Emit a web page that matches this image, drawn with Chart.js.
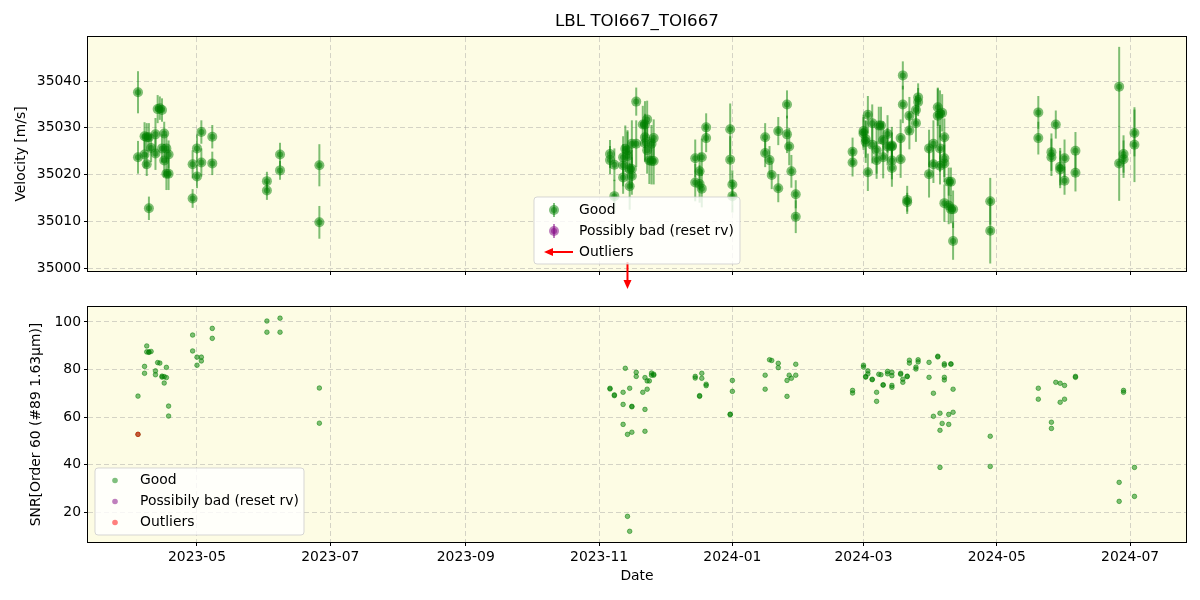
<!DOCTYPE html>
<html>
<head>
<meta charset="utf-8">
<script src="https://cdn.jsdelivr.net/npm/chart.js@4.4.1/dist/chart.umd.min.js"></script>
<style>
  body { margin: 0; background: #fff; }
  .wrap { position: relative; width: 1200px; height: 600px; }
  canvas { position: absolute; left: 0; top: 0; }
</style>
</head>
<body>
<div class="wrap">
  <canvas id="rvChart" width="1200" height="600"></canvas>
  <canvas id="snrChart" width="1200" height="600"></canvas>
</div>
<script>
// observation dates, RV [m/s], RV error, SNR (order 60)
const obsDates = [
  '2023-04-04','2023-04-04','2023-04-07','2023-04-07','2023-04-08','2023-04-08','2023-04-09','2023-04-09','2023-04-10',
  '2023-04-12','2023-04-12','2023-04-13','2023-04-14','2023-04-15','2023-04-15','2023-04-16','2023-04-16','2023-04-17',
  '2023-04-17','2023-04-18','2023-04-18','2023-04-29','2023-04-29','2023-05-01','2023-05-01','2023-05-03','2023-05-03',
  '2023-05-08','2023-05-08','2023-06-02','2023-06-02','2023-06-08','2023-06-08','2023-06-26','2023-06-26',
  '2023-11-06','2023-11-06','2023-11-08','2023-11-08','2023-11-12','2023-11-12','2023-11-12','2023-11-13','2023-11-14',
  '2023-11-14','2023-11-15','2023-11-15','2023-11-16','2023-11-16','2023-11-16','2023-11-18','2023-11-18','2023-11-21',
  '2023-11-22','2023-11-22','2023-11-22','2023-11-23','2023-11-23','2023-11-24','2023-11-25','2023-11-25','2023-11-26',
  '2023-11-26',
  '2023-12-15','2023-12-15','2023-12-17','2023-12-17','2023-12-18','2023-12-18','2023-12-20','2023-12-20','2023-12-31',
  '2023-12-31','2024-01-01','2024-01-01','2024-01-16','2024-01-16','2024-01-18','2024-01-19','2024-01-22','2024-01-22',
  '2024-01-26','2024-01-26','2024-01-27','2024-01-28','2024-01-30','2024-01-30',
  '2024-02-25','2024-02-25','2024-03-01','2024-03-01','2024-03-02','2024-03-02','2024-03-03','2024-03-03','2024-03-05',
  '2024-03-05','2024-03-07','2024-03-07','2024-03-08','2024-03-09','2024-03-10','2024-03-10','2024-03-12','2024-03-12',
  '2024-03-14','2024-03-14','2024-03-14','2024-03-14','2024-03-18','2024-03-18','2024-03-19','2024-03-19','2024-03-21',
  '2024-03-21','2024-03-22','2024-03-22','2024-03-25','2024-03-25','2024-03-26','2024-03-26','2024-03-31','2024-03-31',
  '2024-04-02','2024-04-02','2024-04-04','2024-04-04','2024-04-05','2024-04-05','2024-04-05','2024-04-06','2024-04-07',
  '2024-04-07','2024-04-07','2024-04-07','2024-04-09','2024-04-09','2024-04-10','2024-04-10','2024-04-11','2024-04-11',
  '2024-04-28','2024-04-28','2024-05-20','2024-05-20','2024-05-26','2024-05-26','2024-05-28','2024-05-30','2024-05-30',
  '2024-06-01','2024-06-01','2024-06-06','2024-06-06','2024-06-26','2024-06-26','2024-06-28','2024-06-28','2024-07-03',
  '2024-07-03'
];
const rvValues = [
  35037.6,35023.7,35028.2,35024.3,35028.0,35022.2,35028.0,35012.8,35025.7,
  35028.6,35024.5,35034.0,35034.2,35033.8,35025.6,35028.8,35023.0,35025.6,
  35020.2,35024.3,35020.2,35022.2,35014.9,35025.6,35019.6,35029.1,35022.6,
  35028.1,35022.4,35018.6,35016.6,35024.3,35020.9,35022.0,35009.8,
  35024.4,35023.1,35022.1,35015.4,35019.4,35022.0,35023.7,35025.5,35025.2,
  35024.0,35017.5,35021.2,35021.2,35026.6,35019.7,35035.6,35026.6,35030.7,
  35030.7,35028.0,35026.7,35031.8,35025.2,35023.0,35026.6,35022.9,35027.8,
  35022.9,
  35023.5,35018.3,35020.7,35018.0,35023.7,35017.0,35030.1,35027.8,35029.7,
  35023.2,35017.9,35015.4,35028.0,35024.6,35023.1,35019.9,35029.3,35017.1,
  35035.0,35028.6,35026.0,35020.7,35015.8,35011.0,
  35024.9,35022.6,35029.3,35028.8,35027.6,35027.0,35032.8,35020.5,35031.0,
  35026.4,35025.2,35023.1,35030.5,35030.5,35027.4,35023.7,35028.7,35026.0,
  35026.2,35026.0,35023.0,35021.4,35027.8,35023.3,35041.2,35035.0,35014.6,
  35014.1,35032.6,35029.4,35031.0,35033.8,35036.5,35035.5,35025.6,35020.1,
  35026.6,35022.2,35034.4,35032.6,35033.0,35025.6,35021.9,35033.2,35028.0,
  35023.5,35022.4,35013.9,35018.5,35013.4,35018.5,35012.6,35005.8,35012.6,
  35014.3,35008.0,35033.3,35027.8,35024.8,35023.7,35030.7,35021.7,35021.1,
  35023.5,35018.7,35025.1,35020.4,35038.8,35022.4,35024.4,35023.3,35028.9,
  35026.4
];
const rvErrors = [
  4.5,3.5,3.0,3.0,3.0,2.5,3.0,2.5,3.0,
  3.5,3.5,3.0,2.5,2.5,3.0,2.5,3.5,3.0,
  3.5,3.0,3.5,3.0,2.0,3.0,2.5,2.5,3.0,
  2.5,2.5,2.0,2.0,2.5,2.0,4.5,3.5,
  3.0,3.0,3.5,3.5,3.5,4.5,4.5,5.0,4.0,
  5.5,5.0,4.0,4.0,5.0,4.0,3.0,5.0,4.0,
  5.0,5.0,4.0,4.0,5.0,5.0,4.0,5.0,4.0,
  5.0,
  4.0,4.0,4.0,4.0,4.0,4.0,3.0,3.0,5.5,
  5.0,3.0,3.5,3.0,3.0,3.0,3.0,3.0,3.0,
  3.0,4.0,4.0,3.5,3.0,3.5,
  3.0,3.0,3.5,3.5,4.0,4.5,4.0,4.0,4.0,
  4.0,5.0,4.0,4.0,4.0,4.0,4.5,4.0,4.0,
  4.0,3.0,4.0,4.0,4.0,4.0,3.0,4.0,3.0,
  2.0,4.0,4.0,4.0,3.0,3.0,3.0,4.0,5.0,
  5.0,4.0,4.0,6.0,5.0,5.0,4.0,4.0,4.0,
  4.0,4.0,4.0,3.0,4.0,3.0,3.0,4.0,4.0,
  5.0,7.0,3.5,3.5,4.0,4.0,3.0,4.0,4.0,
  4.0,3.0,4.0,4.0,8.5,8.0,4.0,4.0,5.0,
  8.0
];
const snrValues = [
  68.8,52.7,81.3,78.4,89.9,87.4,87.4,87.2,87.6,
  79.4,77.8,82.9,82.7,77.2,76.8,74.3,77.0,80.9,
  76.6,64.6,60.4,94.5,87.8,85.2,81.8,85.2,83.6,
  97.3,93.1,100.4,95.7,101.6,95.7,72.2,57.4,
  72.1,71.8,69.3,69.0,56.9,70.4,65.3,80.5,52.7,
  18.2,11.9,72.1,64.5,64.3,53.6,78.8,77.1,70.4,
  76.6,63.2,54.0,71.7,75.2,75.2,78.5,77.6,78.0,
  77.6,
  77.1,76.4,69.0,68.7,78.4,76.3,73.8,73.2,61.0,
  61.2,75.4,70.8,77.6,71.7,84.1,83.8,82.6,80.8,
  75.4,68.7,77.6,76.3,82.2,77.6,
  71.2,70.1,81.8,81.0,76.8,77.0,79.4,78.2,75.7,
  75.9,70.4,66.6,78.0,77.8,73.6,73.4,79.2,78.2,
  73.3,72.5,78.8,77.4,78.4,78.0,75.9,74.6,77.0,
  77.2,82.7,83.9,81.0,80.2,83.2,84.1,83.0,76.7,
  70.0,60.3,85.6,85.3,61.6,54.4,38.8,57.3,76.7,
  75.6,82.4,81.8,61.1,56.9,82.4,82.2,71.7,62.0,
  51.9,39.2,72.1,67.5,57.8,55.2,74.6,74.2,66.2,
  73.3,67.5,77.1,76.7,32.5,24.5,71.2,70.4,38.8,
  26.6
];
// outliers: RV below the plotted range (arrow), and one SNR point flagged
const rvOutlierDates = ['2023-11-14'];
const snrOutlierDates = ['2023-04-04'];
const snrOutlierValues = [52.7];

// axes
const xLimits = ['2023-03-12T03:00:00Z', '2024-07-26T14:00:00Z'];
const xTickDates = ['2023-05-01','2023-07-01','2023-09-01','2023-11-01','2024-01-01','2024-03-01','2024-05-01','2024-07-01'];
const rvLimits = [34999.4, 35049.4];
const rvTicks = [35000, 35010, 35020, 35030, 35040];
const snrLimits = [7.4, 106.3];
const snrTicks = [20, 40, 60, 80, 100];

const toMs = d => Date.parse(d);
const FONT = { family: 'DejaVu Sans', size: 13.9 };
const GREEN = 'rgba(0,128,0,0.5)';
const PURPLE = 'rgba(128,0,128,0.5)';
const RED = 'rgba(255,0,0,0.5)';
const BG = 'rgb(253,252,228)';
const GRID = 'rgba(150,150,150,0.4)';

function xAxis(showLabels) {
  return {
    type: 'linear',
    min: toMs(xLimits[0]),
    max: toMs(xLimits[1]),
    afterBuildTicks: s => { s.ticks = xTickDates.map(d => ({ value: toMs(d) })); },
    ticks: {
      display: showLabels, autoSkip: false, maxRotation: 0, color: '#000', font: FONT, padding: 3,
      callback: v => new Date(v).toISOString().slice(0, 7)
    },
    grid: { color: GRID, lineWidth: 1, tickLength: 4, tickColor: '#000', tickWidth: 1 },
    border: { display: false, dash: [5, 3] },
    title: { display: showLabels, text: 'Date', color: '#000', font: FONT, padding: { top: 4, bottom: 15 } },
    afterFit: s => { s.height = showLabels ? 58 : 10; }
  };
}

function yAxis(limits, ticks, label, titlePad) {
  return {
    min: limits[0],
    max: limits[1],
    afterBuildTicks: s => { s.ticks = ticks.map(v => ({ value: v })); },
    ticks: { color: '#000', font: FONT, padding: 3, callback: v => String(v) },
    grid: { color: GRID, lineWidth: 1, tickLength: 4, tickColor: '#000', tickWidth: 1 },
    border: { display: false, dash: [5, 3] },
    title: { display: true, text: label, color: '#000', font: FONT, padding: { top: titlePad, bottom: 0 } },
    afterFit: s => { s.width = 88; }
  };
}

function arrow(ctx, x1, y1, x2, y2) {
  const a = Math.atan2(y2 - y1, x2 - x1), L = 9, W = 4;
  const bx = x2 - L * Math.cos(a), by = y2 - L * Math.sin(a);
  ctx.strokeStyle = 'red'; ctx.fillStyle = 'red'; ctx.lineWidth = 2;
  ctx.beginPath(); ctx.moveTo(x1, y1); ctx.lineTo(bx, by); ctx.stroke();
  ctx.beginPath();
  ctx.moveTo(x2, y2);
  ctx.lineTo(bx + W * Math.sin(a), by - W * Math.cos(a));
  ctx.lineTo(bx - W * Math.sin(a), by + W * Math.cos(a));
  ctx.closePath(); ctx.fill();
}

function dot(ctx, x, y, color, r) {
  ctx.fillStyle = color;
  ctx.beginPath(); ctx.arc(x, y, r, 0, Math.PI * 2); ctx.fill();
}

function drawLegend(ctx, box, items) {
  ctx.save();
  ctx.beginPath();
  ctx.roundRect(box.x, box.y, box.w, box.h, 3);
  ctx.fillStyle = 'rgba(255,255,255,0.8)';
  ctx.fill();
  ctx.strokeStyle = 'rgba(204,204,204,0.8)';
  ctx.lineWidth = 1;
  ctx.stroke();
  ctx.font = '13.9px "DejaVu Sans"';
  ctx.textBaseline = 'middle';
  items.forEach((it, i) => {
    const y = box.y + box.first + i * box.step;
    it.symbol(ctx, box.x + box.sx, y);
    ctx.fillStyle = '#000';
    ctx.fillText(it.label, box.x + box.tx, y);
  });
  ctx.restore();
}

function errSymbol(color) {
  return (ctx, x, y) => {
    ctx.strokeStyle = color; ctx.lineWidth = 2;
    ctx.beginPath(); ctx.moveTo(x, y - 7); ctx.lineTo(x, y + 7); ctx.stroke();
    dot(ctx, x, y, color, 5);
    dot(ctx, x, y, color, 3);
  };
}

const panelPlugin = {
  id: 'panel',
  beforeDraw(chart) {
    const { ctx, chartArea: a } = chart;
    ctx.save();
    ctx.fillStyle = BG;
    ctx.fillRect(a.left, a.top, a.right - a.left, a.bottom - a.top);
    ctx.restore();
  },
  beforeDatasetsDraw(chart, args, opts) {
    if (!opts.errors) return;
    const { ctx, chartArea: a, scales: { x, y } } = chart;
    ctx.save();
    ctx.beginPath(); ctx.rect(a.left, a.top, a.right - a.left, a.bottom - a.top); ctx.clip();
    ctx.strokeStyle = GREEN; ctx.lineWidth = 2;
    obsDates.forEach((d, i) => {
      const px = x.getPixelForValue(toMs(d));
      ctx.beginPath();
      ctx.moveTo(px, y.getPixelForValue(rvValues[i] - rvErrors[i]));
      ctx.lineTo(px, y.getPixelForValue(rvValues[i] + rvErrors[i]));
      ctx.stroke();
    });
    ctx.restore();
  },
  afterDraw(chart, args, opts) {
    const { ctx, chartArea: a, scales: { x } } = chart;
    ctx.save();
    ctx.strokeStyle = '#000'; ctx.lineWidth = 1;
    ctx.strokeRect(Math.round(a.left) - 0.5, Math.round(a.top) - 0.5, Math.round(a.right - a.left) + 1, Math.round(a.bottom - a.top) + 1);
    if (opts.arrows) {
      opts.arrows.forEach(d => {
        const px = x.getPixelForValue(toMs(d));
        arrow(ctx, px, a.bottom - 9, px, a.bottom + 18);
      });
    }
    if (opts.legend) drawLegend(ctx, opts.legend.box, opts.legend.items);
    ctx.restore();
  }
};

const goodRv = obsDates.map((d, i) => ({ x: toMs(d), y: rvValues[i] }));
const goodSnr = obsDates.map((d, i) => ({ x: toMs(d), y: snrValues[i] }));
const badSnr = snrOutlierDates.map((d, i) => ({ x: toMs(d), y: snrOutlierValues[i] }));

new Chart(document.getElementById('rvChart'), {
  type: 'scatter',
  data: {
    datasets: [
      { label: 'Good', data: goodRv, pointRadius: 5, pointBackgroundColor: GREEN, pointBorderWidth: 0 },
      { label: 'Good core', data: goodRv, pointRadius: 3, pointBackgroundColor: GREEN, pointBorderWidth: 0 },
      { label: 'Possibly bad (reset rv)', data: [], pointBackgroundColor: PURPLE }
    ]
  },
  options: {
    responsive: false,
    animation: false,
    layout: { padding: { left: 0, right: 14, top: 0, bottom: 319 } },
    scales: {
      x: xAxis(false),
      y: yAxis(rvLimits, rvTicks, 'Velocity [m/s]', 13)
    },
    plugins: {
      legend: { display: false },
      tooltip: { enabled: false },
      title: {
        display: true, fullSize: false, text: 'LBL TOI667_TOI667', color: '#000',
        font: { family: 'DejaVu Sans', size: 16.7, weight: 'normal' }, padding: { top: 12, bottom: 5 }
      },
      panel: {
        errors: true,
        arrows: rvOutlierDates,
        legend: {
          box: { x: 534, y: 197, w: 206, h: 67, first: 13, step: 21, sx: 20, tx: 45 },
          items: [
            { label: 'Good', symbol: errSymbol(GREEN) },
            { label: 'Possibly bad (reset rv)', symbol: errSymbol(PURPLE) },
            { label: 'Outliers', symbol: (ctx, x, y) => arrow(ctx, x + 19, y, x - 10, y) }
          ]
        }
      }
    }
  },
  plugins: [panelPlugin]
});

new Chart(document.getElementById('snrChart'), {
  type: 'scatter',
  data: {
    datasets: [
      { label: 'Good', data: goodSnr, pointRadius: 2.3, pointBackgroundColor: GREEN, pointBorderColor: GREEN, pointBorderWidth: 1, order: 1 },
      { label: 'Possibly bad (reset rv)', data: [], pointBackgroundColor: PURPLE, order: 1 },
      { label: 'Outliers', data: badSnr, pointRadius: 2.3, pointBackgroundColor: RED, pointBorderColor: RED, pointBorderWidth: 1, order: 0 }
    ]
  },
  options: {
    responsive: false,
    animation: false,
    layout: { padding: { left: 0, right: 14, top: 307, bottom: 0 } },
    scales: {
      x: xAxis(true),
      y: yAxis(snrLimits, snrTicks, 'SNR[Order 60 (#89 1.63μm)]', 28)
    },
    plugins: {
      legend: { display: false },
      tooltip: { enabled: false },
      panel: {
        legend: {
          box: { x: 95, y: 468, w: 209, h: 67, first: 12.5, step: 21, sx: 20, tx: 45 },
          items: [
            { label: 'Good', symbol: (ctx, x, y) => dot(ctx, x, y, GREEN, 2.8) },
            { label: 'Possibily bad (reset rv)', symbol: (ctx, x, y) => dot(ctx, x, y, PURPLE, 2.8) },
            { label: 'Outliers', symbol: (ctx, x, y) => dot(ctx, x, y, RED, 2.8) }
          ]
        }
      }
    }
  },
  plugins: [panelPlugin]
});
</script>
</body>
</html>
